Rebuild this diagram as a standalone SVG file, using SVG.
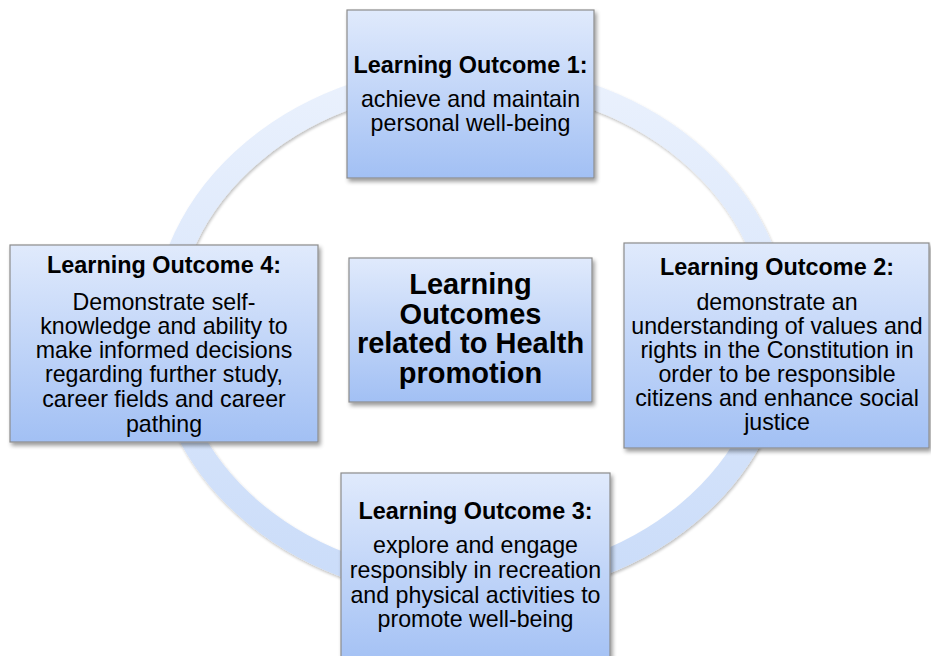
<svg xmlns="http://www.w3.org/2000/svg" width="931" height="656" viewBox="0 0 931 656">
<defs>
<linearGradient id="boxGrad" x1="0" y1="0" x2="0" y2="1">
<stop offset="0" stop-color="#e0eafc"/>
<stop offset="1" stop-color="#a2c0f4"/>
</linearGradient>
<linearGradient id="ringGrad" gradientUnits="userSpaceOnUse" x1="0" y1="76" x2="0" y2="588">
<stop offset="0" stop-color="#eaf1fd"/>
<stop offset="1" stop-color="#cadcf9"/>
</linearGradient>
<filter id="shadow" x="-10%" y="-10%" width="125%" height="125%">
<feGaussianBlur in="SourceAlpha" stdDeviation="2"/>
<feOffset dx="2" dy="3" result="b"/>
<feComponentTransfer><feFuncA type="linear" slope="0.4"/></feComponentTransfer>
<feMerge><feMergeNode/><feMergeNode in="SourceGraphic"/></feMerge>
</filter>
<filter id="ringShadow" x="-10%" y="-10%" width="120%" height="120%">
<feGaussianBlur in="SourceAlpha" stdDeviation="1.5"/>
<feOffset dx="1" dy="2" result="b"/>
<feComponentTransfer><feFuncA type="linear" slope="0.25"/></feComponentTransfer>
<feMerge><feMergeNode/><feMergeNode in="SourceGraphic"/></feMerge>
</filter>
</defs>
<style>
.box{fill:url(#boxGrad);stroke:#8c8c8c;stroke-width:1.2;filter:url(#shadow)}
.t{font-family:"Liberation Sans",Arial,sans-serif;font-size:23.4px;font-weight:bold;fill:#000;text-anchor:middle}
.b{font-family:"Liberation Sans",Arial,sans-serif;font-size:23.2px;fill:#000;text-anchor:middle}
.c{font-family:"Liberation Sans",Arial,sans-serif;font-size:29px;font-weight:bold;fill:#000;text-anchor:middle}
</style>
<rect width="931" height="656" fill="#fff"/>
<g id="connectors">
<ellipse cx="471" cy="332" rx="307" ry="256" fill="none" stroke="url(#ringGrad)" stroke-width="24" filter="url(#ringShadow)"/>
</g>
<g id="center">
<rect class="box" x="349" y="258" width="243" height="144"/>
<text class="c" x="470.5" y="294">Learning</text>
<text class="c" x="470.5" y="323.5">Outcomes</text>
<text class="c" x="470.5" y="353">related to Health</text>
<text class="c" x="470.5" y="382.5">promotion</text>
</g>
<g id="lo1">
<rect class="box" x="347" y="10" width="247" height="168"/>
<text class="t" x="470.5" y="73">Learning Outcome 1:</text>
<text class="b" x="470.5" y="107">achieve and maintain</text>
<text class="b" x="470.5" y="131">personal well-being</text>
</g>
<g id="lo2">
<rect class="box" x="624" y="243" width="305" height="205"/>
<text class="t" x="777" y="275">Learning Outcome 2:</text>
<text class="b" x="777" y="310">demonstrate an</text>
<text class="b" x="777" y="334">understanding of values and</text>
<text class="b" x="777" y="358">rights in the Constitution in</text>
<text class="b" x="777" y="382">order to be responsible</text>
<text class="b" x="777" y="406">citizens and enhance social</text>
<text class="b" x="777" y="430">justice</text>
</g>
<g id="lo3">
<rect class="box" x="341" y="473" width="269" height="195"/>
<text class="t" x="475.5" y="519">Learning Outcome 3:</text>
<text class="b" x="475.5" y="553">explore and engage</text>
<text class="b" x="475.5" y="578">responsibly in recreation</text>
<text class="b" x="475.5" y="603">and physical activities to</text>
<text class="b" x="475.5" y="627">promote well-being</text>
</g>
<g id="lo4">
<rect class="box" x="10" y="245" width="308" height="197"/>
<text class="t" x="164" y="273">Learning Outcome 4:</text>
<text class="b" x="164" y="310">Demonstrate self-</text>
<text class="b" x="164" y="334">knowledge and ability to</text>
<text class="b" x="164" y="358">make informed decisions</text>
<text class="b" x="164" y="382">regarding further study,</text>
<text class="b" x="164" y="407">career fields and career</text>
<text class="b" x="164" y="432">pathing</text>
</g>
</svg>
